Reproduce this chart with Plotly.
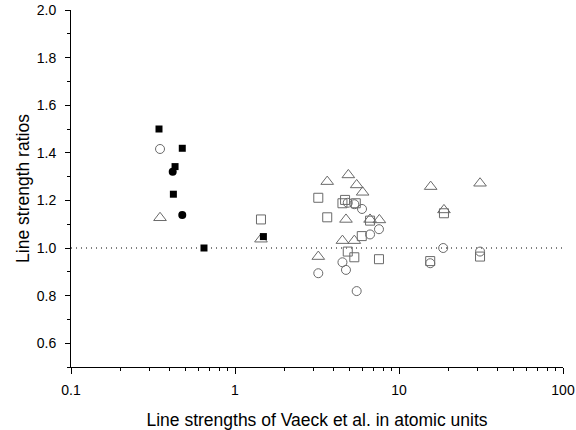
import plotly.graph_objects as go

# Filled squares
fsq_x = [0.344, 0.477, 0.431, 0.421, 0.647, 1.49]
fsq_y = [1.50, 1.419, 1.342, 1.226, 1.00, 1.048]
# Filled circles
fci_x = [0.417, 0.477]
fci_y = [1.32, 1.139]
# Open circles
oci_x = [0.349, 4.87, 5.34, 5.95, 7.55, 6.66, 4.52, 4.75, 3.22, 5.52, 18.6, 31.2, 15.5]
oci_y = [1.416, 1.19, 1.184, 1.164, 1.079, 1.057, 0.94, 0.908, 0.894, 0.819, 1.0, 0.985, 0.936]
# Open squares
osq_x = [1.44, 3.22, 4.69, 4.52, 5.45, 3.65, 6.66, 5.93, 4.87, 5.34, 7.55, 18.8, 31.2, 15.5]
osq_y = [1.12, 1.211, 1.202, 1.188, 1.188, 1.129, 1.115, 1.05, 0.985, 0.961, 0.953, 1.146, 0.964, 0.945]
# Open triangles
otr_x = [0.349, 1.44, 3.65, 4.91, 5.52, 6.0, 4.75, 6.66, 7.59, 4.52, 5.34, 3.22, 15.6, 31.2, 18.8]
otr_y = [1.127, 1.037, 1.279, 1.307, 1.265, 1.234, 1.12, 1.12, 1.118, 1.031, 1.031, 0.964, 1.258, 1.272, 1.16]

x_tickvals = [0.1, 1, 10, 100]
x_ticktext = ["0.1", "1", "10", "100"]
y_tickvals = [0.6, 0.8, 1.0, 1.2, 1.4, 1.6, 1.8, 2.0]
y_ticktext = ["0.6", "0.8", "1.0", "1.2", "1.4", "1.6", "1.8", "2.0"]
ref_value = 1.0

xlabel = "Line strengths of Vaeck et al. in atomic units"
ylabel = "Line strength ratios"

gray = "#6a6a6a"
fig = go.Figure()
fig.add_trace(go.Scatter(x=oci_x, y=oci_y, mode="markers",
                         marker=dict(symbol="circle-open", size=9, color=gray, line=dict(width=1))))
fig.add_trace(go.Scatter(x=osq_x, y=osq_y, mode="markers",
                         marker=dict(symbol="square-open", size=9, color=gray, line=dict(width=1))))
fig.add_trace(go.Scatter(x=otr_x, y=otr_y, mode="markers",
                         marker=dict(symbol="triangle-up-open", size=11, color=gray, line=dict(width=1))))
fig.add_trace(go.Scatter(x=fsq_x, y=fsq_y, mode="markers",
                         marker=dict(symbol="square", size=7, color="black", line=dict(width=0))))
fig.add_trace(go.Scatter(x=fci_x, y=fci_y, mode="markers",
                         marker=dict(symbol="circle", size=8, color="black", line=dict(width=0))))

fig.add_shape(type="line", xref="paper", yref="y", x0=0, x1=1, y0=ref_value, y1=ref_value,
              line=dict(color="black", width=1, dash="1px,4px"), layer="below")

font = "Liberation Sans, Arial, sans-serif"
fig.update_layout(
    width=576, height=430,
    margin=dict(l=71, r=13, t=10, b=63, autoexpand=False),
    paper_bgcolor="white", plot_bgcolor="white",
    showlegend=False,
    font=dict(family=font, color="black", size=14),
    xaxis=dict(type="log", range=[-1, 2], tickvals=x_tickvals, ticktext=x_ticktext,
               ticks="outside", ticklen=6, tickwidth=1, tickcolor="black", automargin=False,
               showline=True, linecolor="black", linewidth=1, showgrid=False, zeroline=False,
               minor=dict(ticks="outside", ticklen=3, tickcolor="black", dtick="D1", showgrid=False),
               title=dict(text=xlabel, font=dict(size=17.5), standoff=16),
               tickfont=dict(size=14), ticklabelstandoff=4),
    yaxis=dict(range=[0.5, 2.0], tickvals=y_tickvals, ticktext=y_ticktext,
               ticks="outside", ticklen=5, tickwidth=1, tickcolor="black", automargin=False,
               showline=True, linecolor="black", linewidth=1, showgrid=False, zeroline=False,
               minor=dict(ticks="outside", ticklen=3, tickcolor="black", dtick=0.1, tick0=0.5, showgrid=False),
               title=dict(text=ylabel, font=dict(size=17.5), standoff=2),
               tickfont=dict(size=14), ticklabelstandoff=6),
)
fig.write_html("out.html", config={"displayModeBar": False},
               post_script="document.body.style.margin='0';document.body.style.overflow='hidden';")
